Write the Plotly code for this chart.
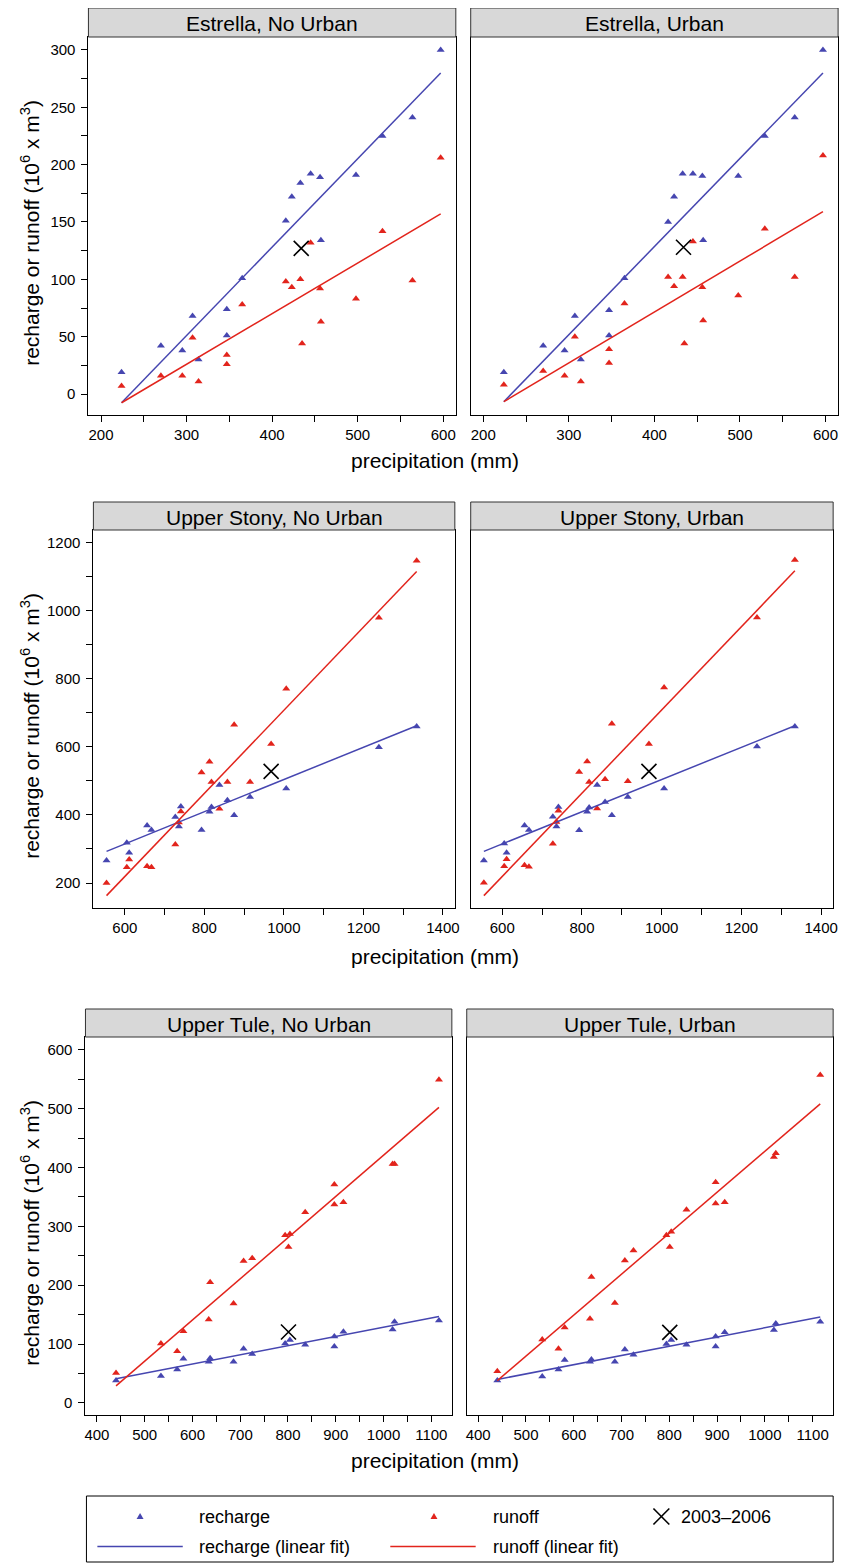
import plotly.graph_objects as go

# page body has an 8 px default margin; the figure is sized/offset to match the window
OFF = 8
W, H = 850, 1557
BLUE = "#4646B0"
RED = "#E2241C"
FONT = "Liberation Sans, Arial, Helvetica, sans-serif"

# ---------------- data ----------------
panel_titles = ["Estrella, No Urban", "Estrella, Urban",
                "Upper Stony, No Urban", "Upper Stony, Urban",
                "Upper Tule, No Urban", "Upper Tule, Urban"]

# Estrella
est_precip = [224, 270, 295, 307, 314, 347, 347, 365, 416, 423, 433, 435, 445, 456, 457, 498, 529, 564, 597]
est_nu_rech = [19, 42, 38, 68, 30, 74, 51, 101, 151, 172, 184, None, 192, 189, 134, 191, 225, 241, 300]
est_nu_run = [7, 16, 16, 49, 11, 34, 26, 78, 98, 93, 100, 44, 132, 92, 63, 83, 142, 99, 206]
est_u_rech = [19, 42, 38, 68, 30, 73, 51, 101, 150, 172, 192, None, 192, 190, 134, 190, 225, 241, 300]
est_u_run = [8, 20, 16, 50, 11, 39, 27, 79, 102, 94, 102, 44, 133, 93, 64, 86, 144, 102, 208]
est_x03 = [434]
est_nu_y03 = [127]
est_u_y03 = [128]
est_fit_x = [224, 597]
est_nu_fit_rech = [-7.6, 280]
est_nu_fit_run = [-7.6, 157]
est_u_fit_rech = [-6.7, 280]
est_u_fit_run = [-6.7, 159]

# Upper Stony
sto_precip = [554, 605, 611, 656, 667, 727, 736, 741, 793, 813, 818, 838, 858, 875, 915, 968, 1006, 1239, 1334]
sto_nu_rech = [266, 318, 289, 369, 356, 394, 366, 425, 356, 409, 423, 488, 443, 399, 453, None, 478, 599, 660]
sto_nu_run = [200, 246, 269, 249, 246, 313, 378, 410, 525, 556, 497, 418, 497, 665, 497, 608, 771, 979, 1147]
sto_u_rech = [266, 316, 289, 369, 356, 395, 366, 423, 355, 409, 422, 488, 438, 399, 453, None, 478, 601, 660]
sto_u_run = [201, 249, 270, 252, 248, 315, 379, 412, 526, 557, 497, 419, 505, 668, 499, 608, 774, 980, 1149]
sto_x03 = [968]
sto_nu_y03 = [528]
sto_u_y03 = [528]
sto_fit_x = [554, 1334]
sto_nu_fit_rech = [293, 662]
sto_nu_fit_run = [163, 1115]
sto_u_fit_rech = [293, 662]
sto_u_fit_run = [163, 1117]

# Upper Tule
tul_precip = [440, 534, 568, 581, 634, 637, 686, 707, 725, 794, 801, 804, 836, 897, 897, 916, 1019, 1023, 1116]
tul_nu_rech = [38, 46, 57, 75, 70, 76, 70, 92, 83, 101, None, 107, 99, 113, 96, 121, 125, 138, 140]
tul_nu_run = [51, 101, 88, 122, 142, 205, 169, 241, 246, 285, 265, 287, 324, 371, 337, 341, 406, 406, 549]
tul_u_rech = [38, 45, 57, 73, 70, 74, 70, 91, 82, 100, None, 107, 99, 113, 96, 120, 124, 135, 138]
tul_u_run = [54, 108, 92, 128, 143, 214, 170, 242, 259, 285, 265, 291, 328, 375, 339, 341, 418, 424, 557]
tul_x03 = [801]
tul_nu_y03 = [120.5]
tul_u_y03 = [120]
tul_fit_x = [440, 1116]
tul_nu_fit_rech = [41, 147]
tul_nu_fit_run = [29, 502]
tul_u_fit_rech = [40, 146]
tul_u_fit_run = [38, 508]

legend_labels = ["recharge", "runoff", "2003\u20132006", "recharge (linear fit)", "runoff (linear fit)"]

panels = [
    (est_precip, est_nu_rech, est_nu_run, est_x03, est_nu_y03, est_fit_x, est_nu_fit_rech, est_nu_fit_run),
    (est_precip, est_u_rech, est_u_run, est_x03, est_u_y03, est_fit_x, est_u_fit_rech, est_u_fit_run),
    (sto_precip, sto_nu_rech, sto_nu_run, sto_x03, sto_nu_y03, sto_fit_x, sto_nu_fit_rech, sto_nu_fit_run),
    (sto_precip, sto_u_rech, sto_u_run, sto_x03, sto_u_y03, sto_fit_x, sto_u_fit_rech, sto_u_fit_run),
    (tul_precip, tul_nu_rech, tul_nu_run, tul_x03, tul_nu_y03, tul_fit_x, tul_nu_fit_rech, tul_nu_fit_run),
    (tul_precip, tul_u_rech, tul_u_run, tul_x03, tul_u_y03, tul_fit_x, tul_u_fit_rech, tul_u_fit_run),
]


# ---------------- layout geometry (window pixels -> paper fractions) ----------------
def fx(p):
    return (p - OFF) / W


def fy(p):
    return 1 - (p - OFF) / H


rows = [
    dict(strip=8, top=37, bottom=415, cols=[(88, 458), (473, 843)],
         xr=[185.3, 614.7], yr=[-18.3, 311.3], xd=100, xm=50, yd=50, ym=25, xtitle=460),
    dict(strip=502, top=530, bottom=908, cols=[(93, 457), (473, 838)],
         xr=[521, 1430], yr=[126.6, 1237], xd=200, xm=100, yd=200, ym=100, xtitle=957),
    dict(strip=1009, top=1037, bottom=1415, cols=[(85, 454), (469, 838)],
         xr=[376, 1143], yr=[-20.4, 621.6], xd=100, xm=50, yd=100, ym=50, xtitle=1460),
]

fig = go.Figure()
shapes = []
annotations = []
layout_axes = {}

for i, (px_, rech, run, x03, y03, fitx, fit_rech, fit_run) in enumerate(panels):
    r, c = divmod(i, 2)
    row = rows[r]
    n = i + 1
    xa = "x" if n == 1 else f"x{n}"
    ya = "y" if n == 1 else f"y{n}"
    fig.add_trace(go.Scatter(x=px_, y=rech, mode="markers", xaxis=xa, yaxis=ya,
                             marker=dict(symbol="triangle-up", size=7, color=BLUE, line=dict(width=0)),
                             name=legend_labels[0], showlegend=False))
    fig.add_trace(go.Scatter(x=px_, y=run, mode="markers", xaxis=xa, yaxis=ya,
                             marker=dict(symbol="triangle-up", size=7, color=RED, line=dict(width=0)),
                             name=legend_labels[1], showlegend=False))
    fig.add_trace(go.Scatter(x=fitx, y=fit_rech, mode="lines", xaxis=xa, yaxis=ya,
                             line=dict(color=BLUE, width=1.5), name=legend_labels[3], showlegend=False))
    fig.add_trace(go.Scatter(x=fitx, y=fit_run, mode="lines", xaxis=xa, yaxis=ya,
                             line=dict(color=RED, width=1.5), name=legend_labels[4], showlegend=False))
    fig.add_trace(go.Scatter(x=x03, y=y03, mode="markers", xaxis=xa, yaxis=ya,
                             marker=dict(symbol="x-thin-open", size=15, color="black",
                                         line=dict(width=1.6, color="black")),
                             name=legend_labels[2], showlegend=False))

    L, R = row["cols"][c]
    xkey = "xaxis" if n == 1 else f"xaxis{n}"
    ykey = "yaxis" if n == 1 else f"yaxis{n}"
    layout_axes[xkey] = dict(
        domain=[fx(L), fx(R)], anchor=ya, range=row["xr"], showgrid=False, zeroline=False,
        showline=True, mirror=True, linecolor="black", linewidth=1,
        ticks="outside", ticklen=6, tickcolor="black", tickwidth=1,
        tick0=0, dtick=row["xd"],
        minor=dict(dtick=row["xm"], ticks="outside", ticklen=6, tickcolor="black", tickwidth=1, showgrid=False),
        tickfont=dict(family=FONT, size=15, color="black"),
    )
    ycfg = dict(
        domain=[fy(row["bottom"]), fy(row["top"])], anchor=xa, range=row["yr"], showgrid=False,
        zeroline=False, showline=True, mirror=True, linecolor="black", linewidth=1,
        tickfont=dict(family=FONT, size=15, color="black"),
    )
    if c == 0:
        ycfg.update(ticks="outside", ticklen=6, tickcolor="black", tickwidth=1, tick0=0,
                    dtick=row["yd"], ticklabelstandoff=3,
                    minor=dict(dtick=row["ym"], ticks="outside", ticklen=6, tickcolor="black",
                               tickwidth=1, showgrid=False))
    else:
        ycfg.update(ticks="", showticklabels=False)
    layout_axes[ykey] = ycfg

    # strip
    shapes.append(dict(type="rect", xref="paper", yref="paper",
                       x0=fx(L), x1=fx(R), y0=fy(row["top"]), y1=fy(row["strip"]),
                       fillcolor="#D8D8D8", line=dict(color="#333333", width=1), layer="above"))
    annotations.append(dict(text=panel_titles[i], xref="paper", yref="paper",
                            x=fx((L + R) / 2), y=fy((row["strip"] + row["top"]) / 2 + 1),
                            xanchor="center", yanchor="middle", showarrow=False,
                            font=dict(family=FONT, size=21, color="black")))

for row in rows:
    annotations.append(dict(text="precipitation (mm)", xref="paper", yref="paper",
                            x=fx(437), y=fy(row["xtitle"]), xanchor="center", yanchor="middle",
                            showarrow=False, font=dict(family=FONT, size=21, color="black")))
    annotations.append(dict(text="recharge or runoff (10<sup>6</sup> x m<sup>3</sup>)",
                            xref="paper", yref="paper", textangle=-90,
                            x=fx(29), y=fy((row["top"] + row["bottom"]) / 2 + 7),
                            xanchor="center", yanchor="middle", showarrow=False,
                            font=dict(family=FONT, size=21, color="black")))

# ---------------- legend (drawn as a key box) ----------------
LEG_TOP, LEG_BOT, LEG_L, LEG_R = 1496, 1562, 86, 838
shapes.append(dict(type="rect", xref="paper", yref="paper", x0=fx(LEG_L), x1=fx(LEG_R),
                   y0=fy(LEG_BOT), y1=fy(LEG_TOP), line=dict(color="black", width=1),
                   fillcolor="rgba(0,0,0,0)"))
r1, r2 = 1516.5, 1546.5


def tri(cx, cy, color):
    path = (f"M {fx(cx - 3.5)},{fy(cy + 2.5)} L {fx(cx + 3.5)},{fy(cy + 2.5)} "
            f"L {fx(cx)},{fy(cy - 3.5)} Z")
    return dict(type="path", xref="paper", yref="paper", path=path,
                fillcolor=color, line=dict(color=color, width=0))


shapes.append(tri(140, r1, BLUE))
shapes.append(tri(436, r1, RED))
for (x0, y0, x1, y1) in [(657, r1 - 8, 673, r1 + 8), (657, r1 + 8, 673, r1 - 8)]:
    shapes.append(dict(type="line", xref="paper", yref="paper", x0=fx(x0), y0=fy(y0),
                       x1=fx(x1), y1=fy(y1), line=dict(color="black", width=1.6)))
shapes.append(dict(type="line", xref="paper", yref="paper", x0=fx(97), x1=fx(183),
                   y0=fy(r2), y1=fy(r2), line=dict(color=BLUE, width=1.6)))
shapes.append(dict(type="line", xref="paper", yref="paper", x0=fx(392), x1=fx(478),
                   y0=fy(r2), y1=fy(r2), line=dict(color=RED, width=1.6)))
for text, x, y in [(legend_labels[0], 197, r1), (legend_labels[1], 493, r1),
                   (legend_labels[2], 683, r1), (legend_labels[3], 197, r2),
                   (legend_labels[4], 493, r2)]:
    annotations.append(dict(text=text, xref="paper", yref="paper", x=fx(x), y=fy(y),
                            xanchor="left", yanchor="middle", showarrow=False,
                            font=dict(family=FONT, size=18, color="black")))

fig.update_layout(
    width=W, height=H, margin=dict(l=0, r=0, t=0, b=0),
    paper_bgcolor="white", plot_bgcolor="white", showlegend=False,
    shapes=shapes, annotations=annotations, **layout_axes,
)

fig.write_html("out.html")
